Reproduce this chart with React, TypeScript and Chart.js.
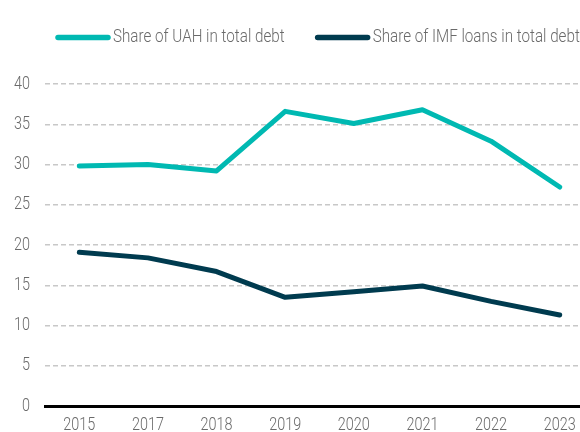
import React, { useEffect, useRef } from "react";
import { Chart, registerables } from "chart.js";

Chart.register(...registerables);

const years = ["2015", "2017", "2018", "2019", "2020", "2021", "2022", "2023"];
const uahShare = [29.8, 30.0, 29.2, 36.6, 35.1, 36.8, 32.9, 27.2];
const imfShare = [19.1, 18.4, 16.7, 13.5, 14.2, 14.9, 13.0, 11.3];
const seriesLabels = ["Share of UAH in total debt", "Share of IMF loans in total debt"];
const seriesColors = ["#00B9B2", "#003B4F"];

const FONT = "Roboto, 'Liberation Sans', sans-serif";
const SX = 0.8;
const TEXT_COLOR = "#6a6a6a";

function drawText(ctx: CanvasRenderingContext2D, text: string, x: number, y: number, align: CanvasTextAlign, size: number) {
  ctx.save();
  ctx.font = `300 ${size}px ${FONT}`;
  ctx.fillStyle = TEXT_COLOR;
  ctx.textBaseline = "middle";
  ctx.textAlign = align;
  ctx.translate(x, y);
  ctx.scale(SX, 1);
  ctx.fillText(text, 0, 0);
  const w = ctx.measureText(text).width * SX;
  ctx.restore();
  return w;
}

const textPlugin = {
  id: "condensedText",
  afterDraw(chart: any) {
    const ctx: CanvasRenderingContext2D = chart.ctx;
    const ys = chart.scales.y;
    ys.ticks.forEach((t: any, i: number) => {
      drawText(ctx, String(t.value), 30, ys.getPixelForTick(i), "right", 18);
    });
    const xs = chart.scales.x;
    xs.ticks.forEach((t: any, i: number) => {
      drawText(ctx, String(chart.data.labels[t.value]), xs.getPixelForTick(i), 425, "center", 18);
    });
    // legend
    let x = 55;
    const y = 37.5;
    chart.data.datasets.forEach((ds: any) => {
      ctx.save();
      ctx.strokeStyle = ds.borderColor;
      ctx.lineWidth = 5.5;
      ctx.lineCap = "round";
      ctx.beginPath();
      ctx.moveTo(x + 3, y);
      ctx.lineTo(x + 53, y);
      ctx.stroke();
      ctx.restore();
      const w = drawText(ctx, ds.label, x + 58, y, "left", 19);
      x += 58 + w + 30;
    });
  },
};

export default function App() {
  const ref = useRef<HTMLCanvasElement | null>(null);
  useEffect(() => {
    document.body.style.margin = "0";
    if (!ref.current) return;
    const chart = new Chart(ref.current, {
      type: "line",
      data: {
        labels: years,
        datasets: [
          {
            label: seriesLabels[0],
            data: uahShare,
            borderColor: seriesColors[0],
            backgroundColor: seriesColors[0],
            borderWidth: 5,
            pointRadius: 0,
            borderCapStyle: "round",
            borderJoinStyle: "round",
          },
          {
            label: seriesLabels[1],
            data: imfShare,
            borderColor: seriesColors[1],
            backgroundColor: seriesColors[1],
            borderWidth: 5,
            pointRadius: 0,
            borderCapStyle: "round",
            borderJoinStyle: "round",
          },
        ],
      },
      options: {
        animation: false,
        responsive: false,
        layout: { padding: { top: 84, left: 45, right: 0, bottom: 26 } },
        plugins: {
          legend: { display: false },
          tooltip: { enabled: false },
        },
        scales: {
          x: {
            offset: true,
            grid: { display: false, drawTicks: false },
            border: { display: true, color: "#000000", width: 3 },
            ticks: { display: false },
          },
          y: {
            min: 0,
            max: 40,
            ticks: { stepSize: 5, display: false },
            grid: { color: "#C8C8C8", lineWidth: 1.5, drawTicks: false },
            border: { display: false, dash: [5, 3] },
          },
        },
      },
      plugins: [textPlugin],
    });
    return () => chart.destroy();
  }, []);
  return (
    <div style={{ width: 580, height: 432, overflow: "hidden" }}>
      <canvas ref={ref} width={594} height={432} style={{ display: "block" }} />
    </div>
  );
}
